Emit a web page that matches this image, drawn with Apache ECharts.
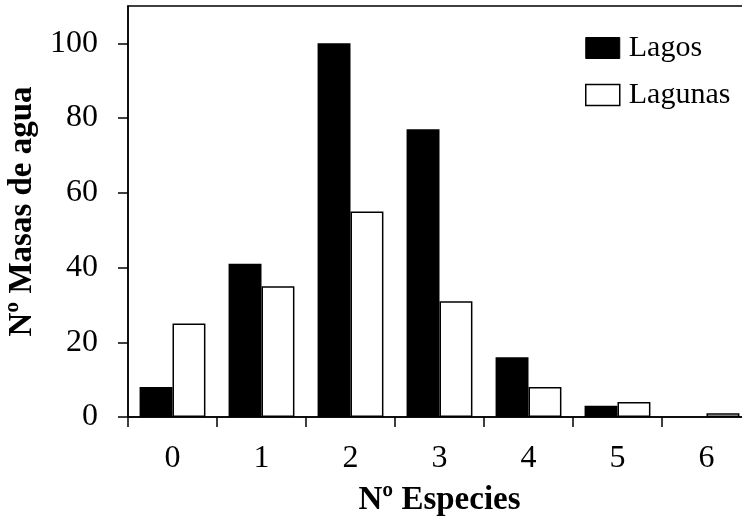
<!DOCTYPE html>
<html>
<head>
<meta charset="utf-8">
<script src="https://cdn.jsdelivr.net/npm/echarts@6/dist/echarts.min.js"></script>
<style>html,body{margin:0;padding:0;background:#fff}#c{width:742px;height:518px}</style>
</head>
<body>
<div id="c"></div>
<script>
const categories = ['0', '1', '2', '3', '4', '5', '6'];
const lagos = [8, 41, 100, 77, 16, 3, 0];
const lagunas = [25, 35, 55, 31, 8, 4, 1];
const yTicks = [0, 20, 40, 60, 80, 100];

const FONT = '"Liberation Serif", serif';
const chart = echarts.init(document.getElementById('c'), null, {renderer: 'canvas'});
chart.setOption({
  animation: false,
  backgroundColor: '#fff',
  grid: {left: 128, top: 6, width: 623, height: 411, containLabel: false, outerBoundsMode: 'none',
         show: true, borderColor: '#000', borderWidth: 1.5, backgroundColor: 'transparent'},
  legend: {
    orient: 'vertical', left: 580, top: 28, itemWidth: 34, itemHeight: 21, itemGap: 17,
    icon: 'rect',
    textStyle: {fontFamily: FONT, fontSize: 30, color: '#000', lineHeight: 30, padding: [0, 0, 0, 4]},
    data: [
      {name: 'Lagos', itemStyle: {color: '#000', borderColor: '#000', borderWidth: 1}},
      {name: 'Lagunas', itemStyle: {color: '#fff', borderColor: '#000', borderWidth: 1.5}}
    ]
  },
  xAxis: {
    type: 'category', data: categories,
    name: 'Nº Especies', nameLocation: 'middle', nameGap: 67,
    nameTextStyle: {fontFamily: FONT, fontSize: 33, fontWeight: 'bold', color: '#000'},
    axisLine: {lineStyle: {color: '#000', width: 1.5}},
    axisTick: {show: true, inside: false, length: 10, lineStyle: {color: '#000', width: 1.5}},
    axisLabel: {fontFamily: FONT, fontSize: 32, color: '#000', margin: 26}
  },
  yAxis: {
    type: 'value', min: 0, max: 110, interval: 20,
    name: 'Nº Masas de agua', nameLocation: 'middle', nameGap: 87,
    nameTextStyle: {fontFamily: FONT, fontSize: 33, fontWeight: 'bold', color: '#000'},
    splitLine: {show: false},
    axisLine: {show: true, lineStyle: {color: '#000', width: 1.5}},
    axisTick: {show: true, inside: false, length: 10, customValues: yTicks, lineStyle: {color: '#000', width: 1.5}},
    axisLabel: {fontFamily: FONT, fontSize: 32, color: '#000', margin: 30, customValues: yTicks}
  },
  series: [
    {name: 'Lagos', type: 'bar', data: lagos, barGap: '0%', barCategoryGap: '26%',
     itemStyle: {color: '#000', borderColor: '#000', borderWidth: 0}},
    {name: 'Lagunas', type: 'bar', data: lagunas, barGap: '0%', barCategoryGap: '26%',
     itemStyle: {color: '#fff', borderColor: '#000', borderWidth: 1.5}}
  ]
});
</script>
</body>
</html>
